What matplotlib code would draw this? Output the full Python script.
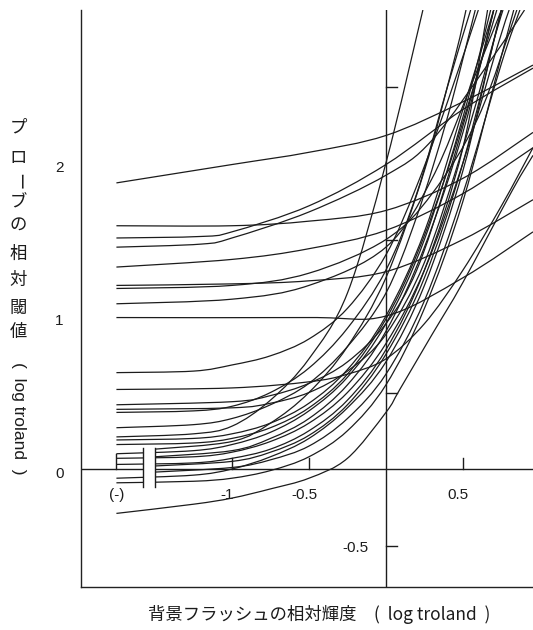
import matplotlib

matplotlib.use("Agg")
import matplotlib.pyplot as plt
from matplotlib.patches import PathPatch
from matplotlib.path import Path

plt.rcParams["font.family"] = ["Liberation Sans", "Noto Sans CJK JP", "DejaVu Sans"]

W, H = 533, 630  # output size in px

# --- data (log troland) ------------------------------------------------------
# curves that start high and rise slowly
high_curves = [
    ([-1.75, -1.0, -0.5, 0.0, 0.5, 0.955], [1.87, 1.99, 2.07, 2.18, 2.40, 2.64]),
    ([-1.75, -1.0, -0.5, 0.0, 0.5, 0.955], [1.59, 1.59, 1.62, 1.69, 1.90, 2.20]),
    ([-1.75, -1.2, -1.0, -0.5, 0.0, 0.5, 0.955], [1.51, 1.52, 1.55, 1.72, 1.99, 2.35, 2.62]),
    ([-1.75, -1.2, -1.0, -0.5, 0.0, 0.3, 0.7, 0.9], [1.45, 1.47, 1.51, 1.68, 1.92, 2.15, 2.70, 3.00]),
    ([-1.75, -1.0, -0.5, 0.0, 0.5, 0.955], [1.32, 1.37, 1.44, 1.56, 1.80, 2.10]),
    ([-1.75, -1.0, -0.5, 0.0, 0.5, 0.955], [1.20, 1.21, 1.23, 1.29, 1.50, 1.76]),
    ([-1.75, -1.0, -0.5, 0.0, 0.3, 0.6, 0.85], [1.18, 1.20, 1.28, 1.50, 1.80, 2.30, 3.00]),
    ([-1.75, -1.0, -0.5, 0.0, 0.3, 0.55, 0.75], [1.08, 1.11, 1.20, 1.45, 1.90, 2.50, 3.00]),
    ([-1.75, -0.5, 0.0, 0.5, 0.955], [0.99, 0.99, 1.00, 1.25, 1.55]),
]

# curves that start low and join the steep bundle
low_curves = [
    ([-1.75, -1.25, -1.0, -0.75, -0.5, -0.25, 0.0, 0.2, 0.4, 0.6],
     [0.63, 0.64, 0.68, 0.74, 0.85, 1.05, 1.40, 1.85, 2.40, 3.00]),
    ([-1.75, -1.0, -0.5, -0.25, 0.0, 0.25, 0.5, 0.75, 0.955],
     [0.52, 0.53, 0.57, 0.62, 0.72, 0.95, 1.30, 1.72, 2.10]),
    ([-1.75, -1.0, -0.75, -0.5, -0.25, 0.0, 0.2, 0.4, 0.6, 0.7],
     [0.42, 0.44, 0.48, 0.56, 0.70, 0.95, 1.30, 1.90, 2.60, 3.00]),
    ([-1.75, -1.0, -0.75, -0.5, -0.25, 0.0, 0.25, 0.5, 0.7, 0.76],
     [0.39, 0.40, 0.43, 0.50, 0.64, 0.88, 1.35, 2.10, 2.80, 3.00]),
    ([-1.75, -1.25, -1.0, -0.75, -0.5, -0.25, 0.0, 0.2, 0.4, 0.55],
     [0.37, 0.38, 0.41, 0.50, 0.66, 0.92, 1.30, 1.80, 2.50, 3.00]),
    ([-1.75, -1.25, -1.0, -0.75, -0.5, -0.25, 0.0, 0.2, 0.4, 0.58],
     [0.27, 0.29, 0.33, 0.42, 0.56, 0.80, 1.15, 1.65, 2.30, 3.00]),
    ([-1.75, -1.25, -1.0, -0.75, -0.5, -0.25, 0.0, 0.24],
     [0.21, 0.23, 0.28, 0.45, 0.72, 1.15, 2.00, 3.00]),
    ([-1.75, -1.25, -1.0, -0.75, -0.5, -0.25, 0.0, 0.25, 0.5, 0.7],
     [0.19, 0.20, 0.23, 0.30, 0.43, 0.65, 1.00, 1.55, 2.35, 3.00]),
    ([-1.75, -1.25, -1.0, -0.75, -0.5, -0.25, 0.0, 0.2, 0.4, 0.6, 0.72],
     [0.16, 0.17, 0.20, 0.27, 0.40, 0.62, 0.98, 1.40, 1.95, 2.60, 3.00]),
    ([-1.75, -1.25, -1.0, -0.75, -0.5, -0.25, 0.0, 0.25, 0.5, 0.68],
     [0.10, 0.12, 0.16, 0.24, 0.38, 0.60, 0.95, 1.50, 2.30, 3.00]),
    ([-1.75, -1.25, -1.0, -0.75, -0.5, -0.25, 0.0, 0.25, 0.5, 0.72, 0.8],
     [0.07, 0.08, 0.11, 0.18, 0.30, 0.50, 0.82, 1.30, 2.00, 2.75, 3.00]),
    ([-1.75, -1.25, -1.0, -0.75, -0.5, -0.25, 0.0, 0.25, 0.5, 0.66],
     [0.03, 0.04, 0.07, 0.13, 0.25, 0.45, 0.78, 1.30, 2.10, 3.00]),
    ([-1.75, -1.25, -1.0, -0.75, -0.5, -0.25, 0.0, 0.25, 0.5, 0.7, 0.75],
     [-0.06, -0.04, 0.00, 0.08, 0.20, 0.40, 0.70, 1.20, 1.95, 2.80, 3.00]),
    ([-1.75, -1.25, -1.0, -0.75, -0.5, -0.25, 0.0, 0.25, 0.5, 0.75, 0.83],
     [-0.09, -0.08, -0.06, -0.01, 0.08, 0.25, 0.55, 1.05, 1.75, 2.70, 3.00]),
    ([-1.75, -1.25, -1.0, -0.75, -0.5, -0.25, 0.0, 0.09, 0.3, 0.5, 0.82, 0.955],
     [-0.29, -0.23, -0.19, -0.13, -0.06, 0.07, 0.37, 0.52, 0.88, 1.22, 1.82, 2.05]),
]

# curves that begin just after the axis break
late_curves = [
    ([-1.5, -1.0, -0.75, -0.5, -0.25, 0.0, 0.25, 0.5, 0.7],
     [0.08, 0.12, 0.20, 0.33, 0.55, 0.90, 1.45, 2.20, 3.00]),
    ([-1.5, -1.0, -0.75, -0.5, -0.25, 0.0, 0.25, 0.5, 0.75],
     [0.02, 0.05, 0.11, 0.22, 0.42, 0.75, 1.25, 2.00, 3.00]),
    ([-1.5, -1.0, -0.75, -0.5, -0.25, 0.0, 0.25, 0.45, 0.52],
     [0.13, 0.18, 0.30, 0.50, 0.80, 1.25, 1.95, 2.70, 3.00]),
    ([-1.5, -1.0, -0.75, -0.5, -0.25, 0.0, 0.25, 0.5, 0.75, 0.87],
     [-0.02, 0.01, 0.06, 0.15, 0.33, 0.62, 1.10, 1.80, 2.65, 3.00]),
]

x_ticks = [-1.0, -0.5, 0.5]
x_tick_labels = ["-1", "-0.5", "0.5"]
x_none = -1.75  # "(-)": no background flash
y_ticks_right = [-0.5, 0.5, 1.5, 2.5]
y_labels_left = ["0", "1", "2"]

ylabel_jp = ["プ", "ロ", "ー", "ブ", "の", "相", "対", "閾", "値"]
ylabel_unit = "(  log troland  )"
xlabel = "背景フラッシュの相対輝度　(  log troland  )"

ink = "#1c1c1c"


def smooth_path(xs, ys):
    """Catmull-Rom through the read points, as cubic Bezier segments."""
    pts = list(zip(xs, ys))
    verts, codes = [pts[0]], [Path.MOVETO]
    for i in range(len(pts) - 1):
        p0 = pts[i - 1] if i > 0 else pts[i]
        p1, p2 = pts[i], pts[i + 1]
        p3 = pts[i + 2] if i + 2 < len(pts) else pts[i + 1]
        c1 = (p1[0] + (p2[0] - p0[0]) / 6, p1[1] + (p2[1] - p0[1]) / 6)
        c2 = (p2[0] - (p3[0] - p1[0]) / 6, p2[1] - (p3[1] - p1[1]) / 6)
        verts += [c1, c2, p2]
        codes += [Path.CURVE4] * 3
    return Path(verts, codes)


# --- figure -------------------------------------------------------------------
fig = plt.figure(figsize=(W / 100, H / 100), dpi=100)
ax = fig.add_axes([81 / W, 1 - 587 / H, (533 - 81) / W, (587 - 10) / H])
ax.set_xlim(-1.98, 0.955)
ax.set_ylim(-0.771, 3.0)
for s in ("top", "right"):
    ax.spines[s].set_visible(False)
for s in ("left", "bottom"):
    ax.spines[s].set_linewidth(1.0)
    ax.spines[s].set_color("#222222")
ax.set_xticks([])
ax.set_yticks([])

for xs, ys in high_curves + low_curves + late_curves:
    ax.add_patch(PathPatch(smooth_path(xs, ys), fill=False, edgecolor=ink, lw=0.9))

ax.axhline(0, color=ink, lw=1.0)
ax.axvline(0, color=ink, lw=1.0)

# tick marks on the zero lines
for xt in x_ticks:
    ax.plot([xt, xt], [0, 0.072], color=ink, lw=1.0)
ax.plot([x_none, x_none], [0, 0.10], color=ink, lw=1.0)
for yt in y_ticks_right:
    ax.plot([0, 0.072], [yt, yt], color=ink, lw=1.0)

# axis break between "(-)" and the log axis
ax.fill_between([-1.578, -1.500], -0.118, 0.137, color="white", zorder=5, lw=0)
for xb in (-1.578, -1.500):
    ax.plot([xb, xb], [-0.118, 0.137], color=ink, lw=1.0, zorder=6)

# tick labels
lab = dict(fontsize=11, color=ink, ha="center", va="center")
for xt, t in zip(x_ticks, x_tick_labels):
    ax.text(xt - 0.03, -0.17, t, **lab)
ax.text(x_none, -0.17, "(-)", **lab)
ax.text(-0.20, -0.517, "-0.5", **lab)
for i, t in enumerate(y_labels_left):
    ax.text(-2.12, i - 0.03, t, clip_on=False, **lab)

# vertical y label: upright kana/kanji, then rotated unit
jp = ["Noto Sans CJK JP", "DejaVu Sans"]
ycent = [128, 158, 182, 203, 226, 254, 280, 308, 332]
for ch, yp in zip(ylabel_jp, ycent):
    rot = -90 if ch == "ー" else 0
    fig.text(18 / W, 1 - yp / H, ch, fontsize=12.5, family=jp, color=ink,
             ha="center", va="center", rotation=rot)
fig.text(18 / W, 1 - 418 / H, ylabel_unit, fontsize=12.5, color=ink,
         ha="center", va="center", rotation=-90)

fig.text(319 / W, 1 - 615 / H, xlabel, fontsize=12.5, family=jp, color=ink,
         ha="center", va="center")

fig.savefig("out.png", dpi=100)
